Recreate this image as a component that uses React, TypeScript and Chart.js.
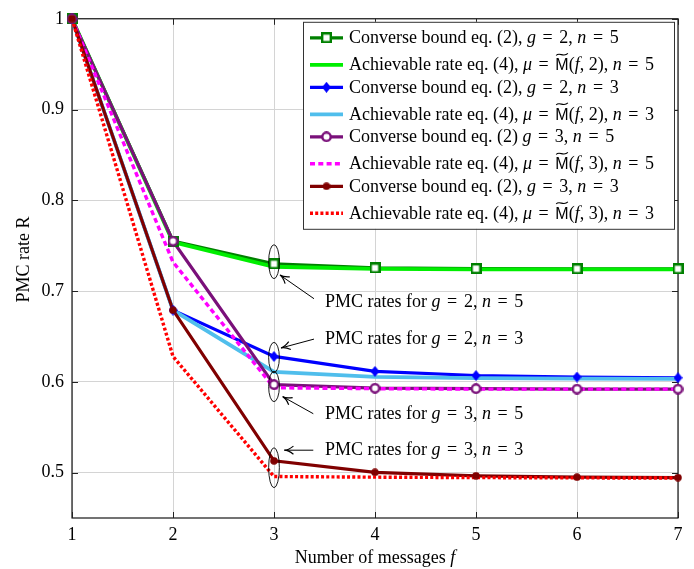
import React, { useEffect, useRef } from "react";
import { Chart, registerables } from "chart.js";

Chart.register(...registerables);

// ---------------- data ----------------
const messages = [1, 2, 3, 4, 5, 6, 7];
const yTickValues = [0.5, 0.6, 0.7, 0.8, 0.9, 1];

const converseG2N5 = [1.0, 0.755, 0.73, 0.7255, 0.7248, 0.7245, 0.7245];
const achievableG2N5 = [1.0, 0.754, 0.7268, 0.7245, 0.724, 0.724, 0.724];
const converseG2N3 = [1.0, 0.679, 0.628, 0.6115, 0.607, 0.6053, 0.6045];
const achievableG2N3 = [1.0, 0.679, 0.611, 0.6055, 0.6042, 0.6035, 0.6033];
const converseG3N5 = [1.0, 0.755, 0.597, 0.593, 0.5925, 0.592, 0.592];
const achievableG3N5 = [1.0, 0.732, 0.5935, 0.5925, 0.592, 0.592, 0.592];
const converseG3N3 = [1.0, 0.679, 0.513, 0.5003, 0.4965, 0.495, 0.4945];
const achievableG3N3 = [1.0, 0.628, 0.4957, 0.495, 0.4945, 0.4942, 0.494];

const legendLabels = [
  "Converse bound eq. (2), {g} = 2, {n} = 5",
  "Achievable rate eq. (4), {μ} = ~M({f}, 2), {n} = 5",
  "Converse bound eq. (2), {g} = 2, {n} = 3",
  "Achievable rate eq. (4), {μ} = ~M({f}, 2), {n} = 3",
  "Converse bound eq. (2) {g} = 3, {n} = 5",
  "Achievable rate eq. (4), {μ} = ~M({f}, 3), {n} = 5",
  "Converse bound eq. (2), {g} = 3, {n} = 3",
  "Achievable rate eq. (4), {μ} = ~M({f}, 3), {n} = 3",
];

// annotations (data units)
const noteLabels = [
  "PMC rates for {g} = 2, {n} = 5",
  "PMC rates for {g} = 2, {n} = 3",
  "PMC rates for {g} = 3, {n} = 5",
  "PMC rates for {g} = 3, {n} = 3",
];
const noteX = [3.505, 3.505, 3.505, 3.505];
const noteY = [0.6888, 0.6478, 0.5656, 0.5257];
const ellipseX = [3, 3, 3, 3];
const ellipseY = [0.7324, 0.6268, 0.5949, 0.5054];
const ellipseHalfH = [0.0187, 0.0167, 0.0167, 0.022];
const ellipseHalfW = [0.053, 0.053, 0.053, 0.053];
const arrowFromX = [3.396, 3.396, 3.389, 3.389];
const arrowFromY = [0.6916, 0.6471, 0.5649, 0.5247];
const arrowToX = [3.059, 3.069, 3.086, 3.102];
const arrowToY = [0.7177, 0.6373, 0.5837, 0.5247];

const xTitle = "Number of messages {f}";
const yTitle = "PMC rate R";

// ---------------- styles ----------------
const FS = 18;
const SERIF = '"Liberation Serif", "Times New Roman", serif';
const DARK_GREEN = "rgb(0,128,0)";
const LIME = "rgb(0,238,0)";
const BLUE = "rgb(0,0,255)";
const LIGHT_BLUE = "rgb(80,190,236)";
const PURPLE = "rgb(122,16,122)";
const MAGENTA = "rgb(255,0,255)";
const MAROON = "rgb(128,0,0)";
const RED = "rgb(255,0,0)";

type Seg = { t: string; s: "r" | "i" | "m" | "eq" };

function parseRich(str: string): Seg[] {
  const parts = str.split(/(\{[^}]*\}|~M|=)/);
  const out: Seg[] = [];
  for (const p of parts) {
    if (!p) continue;
    if (p === "~M") out.push({ t: "M", s: "m" });
    else if (p === "=") out.push({ t: "=", s: "eq" });
    else if (p.startsWith("{")) out.push({ t: p.slice(1, -1), s: "i" });
    else out.push({ t: p, s: "r" });
  }
  return out;
}

function fontFor(s: string, fs: number) {
  if (s === "i") return `italic ${fs}px ${SERIF}`;
  if (s === "m") return `${fs - 2}px "Liberation Sans", "DejaVu Sans", sans-serif`;
  return `${fs}px ${SERIF}`;
}

function segWidth(ctx: CanvasRenderingContext2D, sg: Seg, fs: number) {
  ctx.font = fontFor(sg.s, fs);
  if (sg.s === "eq") return fs * 0.8;
  return ctx.measureText(sg.t).width;
}

function richWidth(ctx: CanvasRenderingContext2D, segs: Seg[], fs: number) {
  let w = 0;
  for (const sg of segs) w += segWidth(ctx, sg, fs);
  return w;
}

function drawRich(ctx: CanvasRenderingContext2D, segs: Seg[], x: number, y: number, fs: number) {
  ctx.textBaseline = "alphabetic";
  ctx.fillStyle = "#000";
  for (const sg of segs) {
    const w = segWidth(ctx, sg, fs);
    ctx.font = fontFor(sg.s, fs);
    if (sg.s === "eq") {
      ctx.textAlign = "center";
      ctx.fillText(sg.t, x + w / 2, y);
    } else {
      ctx.textAlign = "left";
      ctx.fillText(sg.t, x, y);
    }
    if (sg.s === "m") {
      const ty = y - (fs - 2) * 0.72 - 4.5;
      ctx.save();
      ctx.strokeStyle = "#000";
      ctx.lineWidth = 1.1;
      ctx.beginPath();
      ctx.moveTo(x + 0.8, ty + 1.2);
      ctx.bezierCurveTo(x + w * 0.3, ty - 2.6, x + w * 0.62, ty + 3.6, x + w - 0.8, ty - 0.8);
      ctx.stroke();
      ctx.restore();
    }
    x += w;
  }
}

function makeMarker(kind: string): HTMLCanvasElement {
  const c = document.createElement("canvas");
  const ctx = c.getContext("2d")!;
  if (kind === "square") {
    c.width = 11; c.height = 11;
    ctx.fillStyle = "#fff";
    ctx.fillRect(1, 1, 9, 9);
    ctx.strokeStyle = DARK_GREEN;
    ctx.lineWidth = 2.4;
    ctx.strokeRect(1.2, 1.2, 8.6, 8.6);
  } else if (kind === "diamond") {
    c.width = 9; c.height = 11;
    ctx.fillStyle = BLUE;
    ctx.beginPath();
    ctx.moveTo(4.5, 0); ctx.lineTo(9, 5.5); ctx.lineTo(4.5, 11); ctx.lineTo(0, 5.5);
    ctx.closePath(); ctx.fill();
  } else if (kind === "circle") {
    c.width = 11; c.height = 11;
    ctx.fillStyle = "#fff";
    ctx.strokeStyle = PURPLE;
    ctx.lineWidth = 2.4;
    ctx.beginPath(); ctx.arc(5.5, 5.5, 4.2, 0, Math.PI * 2); ctx.fill(); ctx.stroke();
  } else {
    c.width = 8; c.height = 8;
    ctx.fillStyle = MAROON;
    ctx.beginPath(); ctx.arc(4, 4, 3.8, 0, Math.PI * 2); ctx.fill();
  }
  return c;
}

const toXY = (arr: number[]) => messages.map((m, i) => ({ x: m, y: arr[i] }));

export default function App() {
  const ref = useRef<HTMLCanvasElement>(null);

  useEffect(() => {
    if (!ref.current) return;
    const markers = {
      square: makeMarker("square"),
      diamond: makeMarker("diamond"),
      circle: makeMarker("circle"),
      dot: makeMarker("dot"),
    };

    const series = [
      { data: converseG2N5, color: DARK_GREEN, width: 3.2, dash: [] as number[], marker: markers.square },
      { data: achievableG2N5, color: LIME, width: 3.8, dash: [], marker: null },
      { data: converseG2N3, color: BLUE, width: 3.2, dash: [], marker: markers.diamond },
      { data: achievableG2N3, color: LIGHT_BLUE, width: 3.8, dash: [], marker: null },
      { data: converseG3N5, color: PURPLE, width: 3.2, dash: [], marker: markers.circle },
      { data: achievableG3N5, color: MAGENTA, width: 3.4, dash: [5, 3.3], marker: null },
      { data: converseG3N3, color: MAROON, width: 3.2, dash: [], marker: markers.dot },
      { data: achievableG3N3, color: RED, width: 3.4, dash: [3, 2.2], marker: null },
    ];

    const lineSets: any[] = series.map((s, i) => ({
      label: legendLabels[i],
      data: toXY(s.data),
      borderColor: s.color,
      backgroundColor: s.color,
      borderWidth: s.width,
      borderDash: s.dash,
      borderCapStyle: "butt",
      borderJoinStyle: "miter",
      pointRadius: 0,
      tension: 0,
      fill: false,
      clip: false,
      order: 30 - i,
    }));
    const markerSets: any[] = series
      .map((s, i) => ({ s, i }))
      .filter((o) => o.s.marker)
      .map((o, k) => ({
        label: legendLabels[o.i] + " markers",
        data: toXY(o.s.data),
        showLine: false,
        pointStyle: o.s.marker,
        pointRadius: 6,
        clip: false,
        order: 10 - k,
      }));

    const framePlugin = {
      id: "frame",
      beforeDatasetsDraw(chart: any) {
        const { ctx, chartArea: a, scales } = chart;
        ctx.save();
        ctx.strokeStyle = "#000";
        ctx.lineWidth = 1.1;
        ctx.strokeRect(a.left, a.top, a.right - a.left, a.bottom - a.top);
        ctx.strokeStyle = "#222";
        ctx.lineWidth = 1;
        const tl = 6;
        ctx.beginPath();
        for (const v of messages) {
          const px = Math.round(scales.x.getPixelForValue(v)) + 0.5;
          ctx.moveTo(px, a.bottom); ctx.lineTo(px, a.bottom - tl);
          ctx.moveTo(px, a.top); ctx.lineTo(px, a.top + tl);
        }
        for (const v of yTickValues) {
          const py = Math.round(scales.y.getPixelForValue(v)) + 0.5;
          ctx.moveTo(a.left, py); ctx.lineTo(a.left + tl, py);
          ctx.moveTo(a.right, py); ctx.lineTo(a.right - tl, py);
        }
        ctx.stroke();
        ctx.restore();
      },
    };

    const notesPlugin = {
      id: "notes",
      afterDatasetsDraw(chart: any) {
        const { ctx, scales } = chart;
        const X = (v: number) => scales.x.getPixelForValue(v);
        const Y = (v: number) => scales.y.getPixelForValue(v);
        ctx.save();
        ctx.strokeStyle = "#000";
        ctx.lineWidth = 0.9;
        for (let i = 0; i < ellipseY.length; i++) {
          const cx = X(ellipseX[i]);
          const cy = Y(ellipseY[i]);
          const rx = Math.abs(X(ellipseX[i] + ellipseHalfW[i]) - cx);
          const ry = Math.abs(Y(ellipseY[i] + ellipseHalfH[i]) - cy);
          ctx.beginPath();
          ctx.ellipse(cx, cy, rx, ry, 0, 0, Math.PI * 2);
          ctx.stroke();
        }
        ctx.lineWidth = 1;
        for (let i = 0; i < arrowFromX.length; i++) {
          const x0 = X(arrowFromX[i]), y0 = Y(arrowFromY[i]);
          const x1 = X(arrowToX[i]), y1 = Y(arrowToY[i]);
          ctx.beginPath();
          ctx.moveTo(x0, y0); ctx.lineTo(x1, y1);
          ctx.stroke();
          const ang = Math.atan2(y0 - y1, x0 - x1);
          const L = 10, sp = 0.42;
          ctx.lineWidth = 1.2;
          ctx.beginPath();
          ctx.moveTo(x1 + L * Math.cos(ang + sp), y1 + L * Math.sin(ang + sp));
          ctx.quadraticCurveTo(x1 + 4 * Math.cos(ang), y1 + 4 * Math.sin(ang), x1, y1);
          ctx.quadraticCurveTo(x1 + 4 * Math.cos(ang), y1 + 4 * Math.sin(ang), x1 + L * Math.cos(ang - sp), y1 + L * Math.sin(ang - sp));
          ctx.stroke();
          ctx.lineWidth = 1;
        }
        for (let i = 0; i < noteLabels.length; i++) {
          drawRich(ctx, parseRich(noteLabels[i]), X(noteX[i]), Y(noteY[i]) + 6, FS);
        }
        ctx.restore();
      },
    };

    const legendPlugin = {
      id: "customLegend",
      afterDraw(chart: any) {
        const { ctx, chartArea: a } = chart;
        const left = a.right - 375;
        const top = a.top + 3;
        const w = 371, h = 207;
        ctx.save();
        ctx.fillStyle = "#fff";
        ctx.fillRect(left, top, w, h);
        ctx.strokeStyle = "#333";
        ctx.lineWidth = 1;
        ctx.strokeRect(left + 0.5, top + 0.5, w, h);
        let y = top + 16;
        for (let i = 0; i < series.length; i++) {
          const hasTilde = legendLabels[i].includes("~M");
          if (i > 0) y += 22.5 + (hasTilde ? 4.5 : 0);
          const s = series[i];
          ctx.save();
          ctx.strokeStyle = s.color;
          ctx.lineWidth = s.width;
          ctx.setLineDash(s.dash);
          ctx.lineCap = "butt";
          ctx.beginPath();
          ctx.moveTo(left + 7, y); ctx.lineTo(left + 40, y);
          ctx.stroke();
          ctx.restore();
          if (s.marker) {
            const m = s.marker;
            ctx.drawImage(m, left + 23.5 - m.width / 2, y - m.height / 2);
          }
          drawRich(ctx, parseRich(legendLabels[i]), left + 46, y + 5.5, FS);
        }
        ctx.restore();
      },
    };

    const titlesPlugin = {
      id: "titles",
      afterDraw(chart: any) {
        const { ctx, chartArea: a } = chart;
        ctx.save();
        const xs = parseRich(xTitle);
        const xw = richWidth(ctx, xs, FS);
        drawRich(ctx, xs, (a.left + a.right) / 2 - xw / 2, a.bottom + 45, FS);
        ctx.translate(29, (a.top + a.bottom) / 2 - 9);
        ctx.rotate(-Math.PI / 2);
        const ys = parseRich(yTitle);
        const yw = richWidth(ctx, ys, FS);
        drawRich(ctx, ys, -yw / 2, 0, FS);
        ctx.restore();
      },
    };

    const chart = new Chart(ref.current, {
      type: "line",
      data: { datasets: [...lineSets, ...markerSets] },
      options: {
        animation: false,
        responsive: false,
        devicePixelRatio: 1,
        layout: { padding: { top: 12, right: 16, left: 0, bottom: 0 } },
        plugins: { legend: { display: false }, tooltip: { enabled: false } },
        events: [],
        scales: {
          x: {
            type: "linear",
            min: 1,
            max: 7,
            afterBuildTicks: (scale: any) => {
              scale.ticks = messages.map((v) => ({ value: v }));
            },
            afterFit: (scale: any) => {
              scale.height = 51;
            },
            grid: { color: "rgb(212,212,212)", lineWidth: 1, drawTicks: false },
            border: { display: false },
            ticks: {
              padding: 6,
              color: "#000",
              font: { family: SERIF, size: FS },
              maxRotation: 0,
              callback: (v: any) => String(v),
            },
          },
          y: {
            type: "linear",
            min: 0.45,
            max: 1,
            afterBuildTicks: (scale: any) => {
              scale.ticks = yTickValues.map((v) => ({ value: v }));
            },
            afterFit: (scale: any) => {
              scale.width = 72;
            },
            grid: { color: "rgb(212,212,212)", lineWidth: 1, drawTicks: false },
            border: { display: false },
            ticks: {
              padding: 8,
              color: "#000",
              font: { family: SERIF, size: FS },
              callback: (v: any) => String(Number(Number(v).toFixed(2))),
            },
          },
        },
      } as any,
      plugins: [framePlugin, notesPlugin, legendPlugin, titlesPlugin],
    });
    return () => chart.destroy();
  }, []);

  return (
    <div style={{ position: "absolute", left: 0, top: 0, width: 694, height: 569, background: "#fff" }}>
      <canvas ref={ref} width={694} height={569} style={{ display: "block", width: 694, height: 569 }} />
    </div>
  );
}
